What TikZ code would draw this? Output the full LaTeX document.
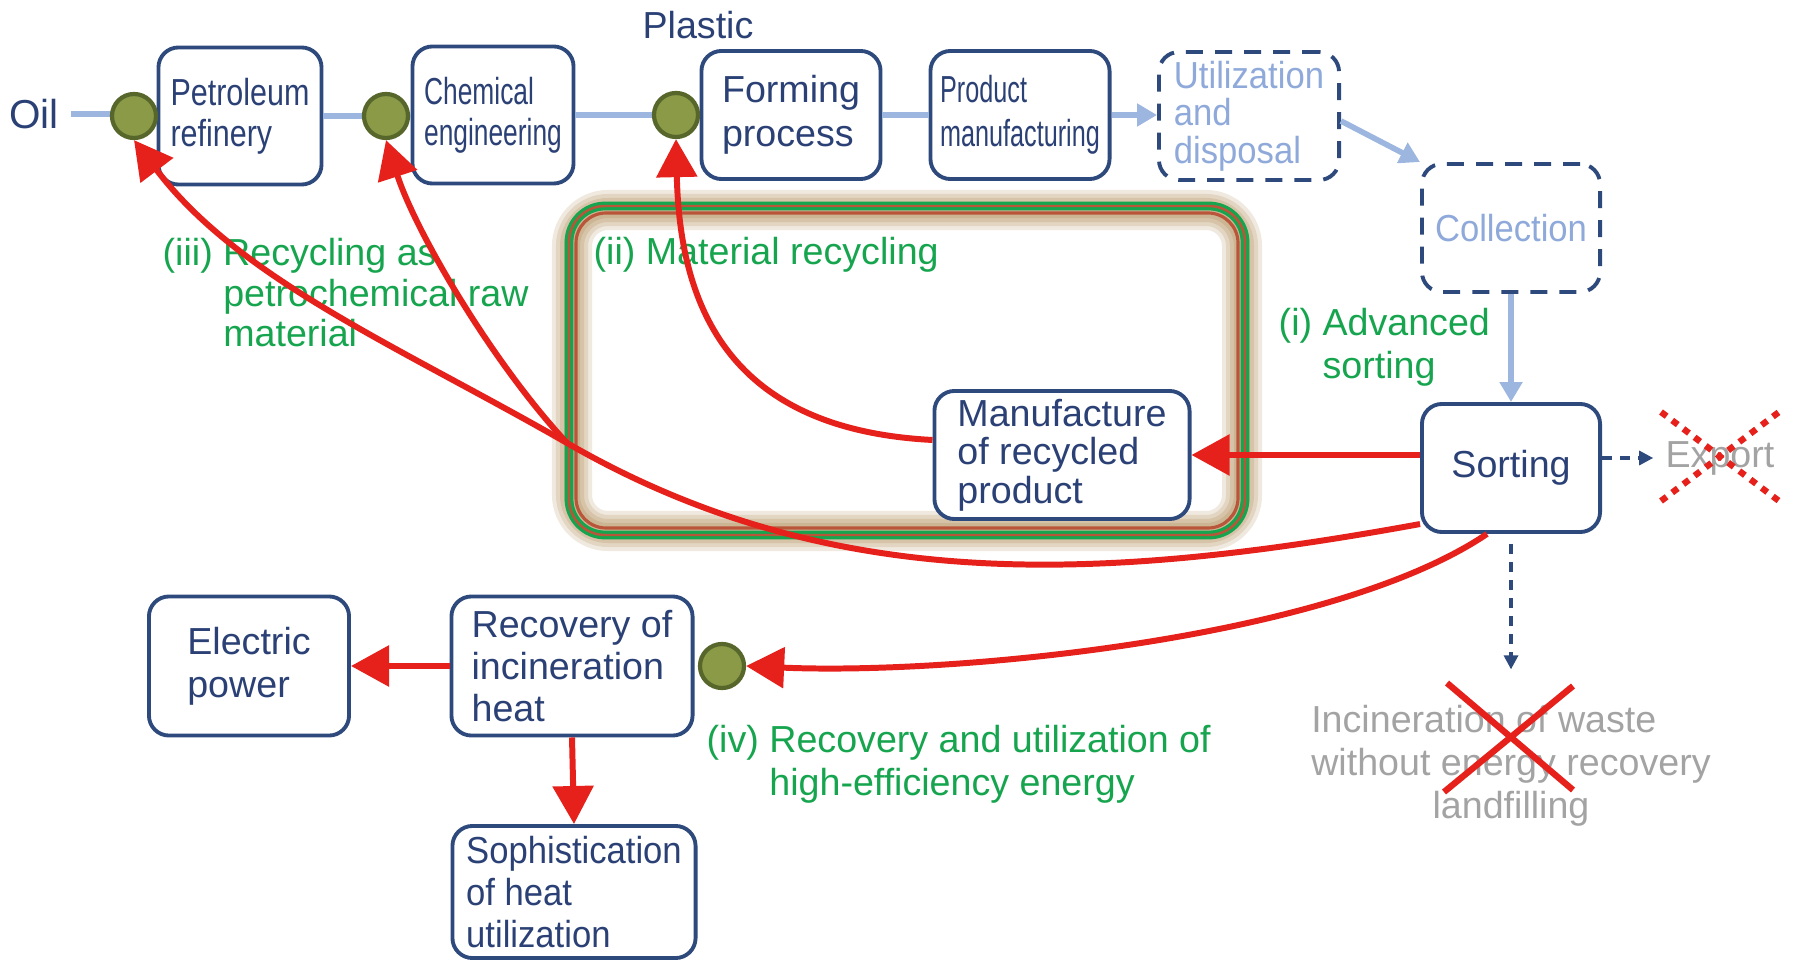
\documentclass[tikz,border=0pt]{standalone}
\usepackage{fontspec}
\setmainfont{Liberation Sans}
\newfontfamily\narrowpet[FakeStretch=0.81]{Liberation Sans}
\newfontfamily\narrowchem[FakeStretch=0.70]{Liberation Sans}
\newfontfamily\narrowprod[FakeStretch=0.67]{Liberation Sans}
\newfontfamily\narrowutil[FakeStretch=0.92]{Liberation Sans}
\usetikzlibrary{arrows.meta,calc}
\definecolor{boxnavy}{HTML}{2E4A7D}
\definecolor{textnavy}{HTML}{2B4176}
\definecolor{pipeblue}{HTML}{9CB6DF}
\definecolor{paleblue}{HTML}{8FAADA}
\definecolor{flowred}{HTML}{E6211B}
\definecolor{labelgreen}{HTML}{16A54E}
\definecolor{knotfill}{HTML}{8A9A46}
\definecolor{knotline}{HTML}{57662B}
\definecolor{glowtan}{HTML}{B99A6C}
\definecolor{framebrown}{HTML}{B9563A}
\definecolor{ashgray}{HTML}{A3A3A3}
\begin{document}
\begin{tikzpicture}[x=0.01cm,y=-0.01cm,
		every node/.style={font=\fontsize{10.7}{12.3}\selectfont,text=textnavy},
		stage/.style={draw=boxnavy,line width=1.1pt,rounded corners=0.2cm,fill=white,align=left,minimum width=1.78cm,minimum height=1.28cm,inner sep=0.05cm},
		fate/.style={stage,dashed,dash pattern=on 0.17cm off 0.12cm,text=paleblue},
		knot/.style={circle,draw=knotline,fill=knotfill,line width=1.2pt,minimum size=0.44cm,inner sep=0},
		pipe/.style={draw=pipeblue,line width=1.6pt},
		pipearrow/.style={pipe,-{Triangle[length=0.2cm,width=0.22cm]}},
		flow/.style={draw=flowred,line width=1.7pt,-{Triangle[length=0.38cm,width=0.4cm]}},
		note/.style={text=labelgreen,inner sep=0,anchor=west},
		side/.style={draw=boxnavy,line width=0.9pt,dashed,dash pattern=on 0.1cm off 0.08cm,-{Triangle[length=0.14cm,width=0.14cm]}},
		nogo/.style={draw=flowred,line width=1.8pt},
		nogodots/.style={nogo,dash pattern=on 0.07cm off 0.07cm}]
	\path[use as bounding box] (0,0) rectangle (1794,961);
	\foreach \w/\o in {0.4cm/0.22,0.32cm/0.25,0.24cm/0.3,0.16cm/0.35}
		\draw[glowtan,line width=\w,opacity=\o,rounded corners=0.36cm] (572,210) rectangle (1242,531);
	\draw[labelgreen,line width=0.9pt,double=framebrown,double distance=0.7pt,rounded corners=0.36cm] (569,206) rectangle (1245,535);
	\draw[framebrown,line width=0.9pt,rounded corners=0.3cm] (576,213) rectangle (1238,528);
	\node (oil) at (34,114) {\fontsize{11.5}{13}\selectfont Oil};
	\node (plastic) at (698,25) {Plastic};
	\node[stage,minimum width=1.63cm,minimum height=1.37cm,font=\narrowpet\fontsize{10.7}{11.7}\selectfont] (ref) at (240,116) {Petroleum\\refinery};
	\node[stage,minimum width=1.61cm,minimum height=1.37cm,font=\narrowchem\fontsize{10.7}{11.7}\selectfont] (chem) at (493,115) {Chemical\\engineering};
	\node[stage,minimum width=1.79cm,font=\fontsize{10.7}{12.4}\selectfont] (form) at (791,115) {Forming\\process};
	\node[stage,minimum width=1.79cm,font=\narrowprod\fontsize{10.7}{12.4}\selectfont] (prod) at (1020,115) {Product\\manufacturing};
	\node[fate,minimum width=1.8cm,font=\narrowutil\fontsize{10.7}{10.7}\selectfont] (util) at (1249,116) {Utilization\\and\\disposal};
	\node[fate,font=\narrowutil\fontsize{10.7}{12}\selectfont] (coll) at (1511,228) {Collection};
	\node[stage] (sort) at (1511,468) {Sorting};
	\node[stage,minimum width=2.55cm,font=\fontsize{10.7}{10.9}\selectfont] (mfg) at (1062,455) {Manufacture\\of recycled\\product};
	\node[stage,minimum width=2.0cm,minimum height=1.39cm] (elec) at (249,666) {Electric\\power};
	\node[stage,minimum width=2.41cm,minimum height=1.39cm,font=\fontsize{10.7}{11.9}\selectfont] (rec) at (572,666) {Recovery of\\incineration\\heat};
	\node[stage,minimum width=2.43cm,minimum height=1.32cm,font=\narrowutil\fontsize{10.7}{11.9}\selectfont] (soph) at (574,892) {Sophistication\\of heat\\utilization};
	\draw[pipe] (oil.east) -- (oil.east -| ref.west);
	\draw[pipe] (ref.east) -- (ref.east -| chem.west);
	\draw[pipe] (chem.east) -- (chem.east -| form.west);
	\draw[pipe] (form.east) -- (form.east -| prod.west);
	\draw[pipearrow] (prod.east) -- (prod.east -| util.west);
	\draw[pipearrow] ([yshift=-0.05cm]util.east) -- (coll.north west);
	\draw[pipearrow] (coll.south) -- (sort.north);
	\node[knot] (k1) at (134,116) {};
	\node[knot] (k2) at (386,116) {};
	\node[knot] (k3) at (676,115) {};
	\node[knot] (k4) at (722,666) {};
	\node[note,font=\fontsize{10.7}{11.6}\selectfont] (lab3) at (162,298) {\begin{tabular}{@{}l@{ }l@{}}(iii)&Recycling as\\&petrochemical raw\\&material\end{tabular}};
	\node[note] (lab2) at (593,255) {(ii) Material recycling};
	\node[note] (lab1) at (1278,348) {\begin{tabular}{@{}l@{ }l@{}}(i)&Advanced\\&sorting\end{tabular}};
	\node[note] (lab4) at (706,765) {\begin{tabular}{@{}l@{ }l@{}}(iv)&Recovery and utilization of\\&high-efficiency energy\end{tabular}};
	\node[text=ashgray] (exp) at (1720,458) {Export};
	\node[text=ashgray,inner sep=0] (incin) at (1511,767) {\begin{tabular}{@{}l@{}}Incineration of waste\\without energy recovery\\\multicolumn{1}{@{}c@{}}{landfilling}\end{tabular}};
	\draw[side] (sort.east |- exp.west) -- (exp.west);
	\draw[side,shorten <=0.1cm,shorten >=0.32cm] (sort.south) -- (incin.north);
	\draw[nogodots] ($(exp)+(-59,-46)$) -- ($(exp)+(59,43)$) ($(exp)+(-59,43)$) -- ($(exp)+(59,-46)$);
	\draw[nogo] ($(incin)+(-64,-84)$) -- ($(incin)+(62,23)$) ($(incin)+(62,-81)$) -- ($(incin)+(-67,25)$);
	\coordinate (fork) at (567,443);
	\draw[flow] (sort.west |- mfg.east) -- (mfg.east);
	\draw[flow] ([yshift=0.15cm]mfg.west) .. controls (740,430) and (680,320) .. (k3.south);
	\draw[flow] ([yshift=-0.56cm]sort.west) .. controls (1092,584) and (827,593) .. (fork) .. controls (400,347) and (240,280) .. (k1.south);
	\draw[flow] (fork) .. controls (490,360) and (415,230) .. (k2.south);
	\draw[flow] ([xshift=-0.24cm]sort.south) .. controls (1330,640) and (950,675) .. (k4.east);
	\draw[flow] (rec.west) -- (elec.east);
	\draw[flow] (rec.south) -- (soph.north);
\end{tikzpicture}
\end{document}
